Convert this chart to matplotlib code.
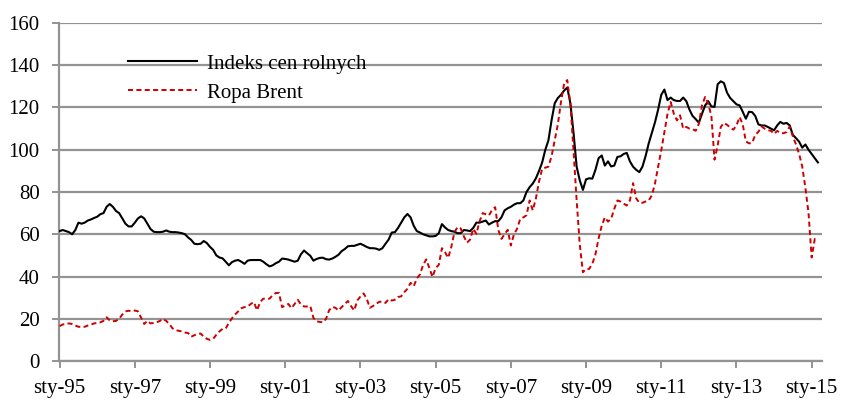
import matplotlib
matplotlib.use("Agg")
import matplotlib.pyplot as plt
import numpy as np

# Monthly data, Jan 1995 - Mar 2015
indeks = [
    61.5, 62, 61.5, 61, 60, 62, 65.5, 65, 65.5, 66.5, 67, 67.7,
    68.3, 69.5, 70, 73, 74.3, 73, 71, 70, 67.5, 65, 63.7, 63.7,
    65.5, 67.5, 68.5, 67.5, 65, 62.5, 61.2, 61, 61, 61.2, 61.8, 61.2,
    61, 61, 60.8, 60.5, 60, 58.5, 57.3, 55.5, 55.3, 55.5, 56.8, 55.8,
    54, 52.6, 50, 49, 48.6, 47, 45.3, 46.8, 47.5, 47.8, 47, 46,
    47.5, 47.8, 47.8, 47.8, 47.8, 47, 45.8, 44.8, 45.3, 46.3, 47, 48.5,
    48.3, 48, 47.5, 47, 47.5, 50.5, 52.3, 51, 49.8, 47.5, 48.3, 48.8,
    48.9, 48.2, 48, 48.5, 49.3, 50.3, 52, 53, 54.3, 54.5, 54.5, 55,
    55.5, 54.8, 54, 53.4, 53.4, 53.2, 52.6, 53.4, 55.5, 57.5, 60.8, 61,
    63, 65.5, 68, 69.6, 68, 64, 61.5, 60.8, 60, 59.5, 59, 59,
    59.2, 60.5, 64.8, 63.2, 62, 61.5, 61.2, 60.5, 60.5, 62, 61.8, 61.5,
    63, 65.5, 65.5, 66, 66.5, 64.6, 65.5, 66.2, 66.2, 68, 71.3, 72.3,
    73, 74, 74.7, 74.7, 76, 80, 82.3, 84, 86.5, 90, 94, 100,
    104.5, 114, 122, 124.5, 126, 128, 129.5, 122, 108, 92, 85.5, 81,
    86, 86.5, 86.3, 90.5, 96, 97.3, 92.5, 94.5, 92.1, 92.5, 96.6, 96.9,
    98, 98.5, 94.5, 92, 90.5, 89.4, 92, 97, 103, 108, 113, 119,
    126, 128.5, 123.5, 124.7, 123.5, 123.1, 123.1, 124.7, 123, 119, 116, 114.5,
    112.8, 117, 121, 123, 120.5, 120.3, 131, 132.4, 131.6, 127, 124.5, 123,
    121.5, 121, 118, 114.7, 118, 117.8, 116, 112, 111.5, 111.5, 110.8, 110,
    109.2, 111.5, 113.2, 112.3, 112.7, 111.5, 107, 105.5, 103.8, 101, 102.5, 100,
    98, 96, 94,
]
brent = [
    16.5, 17.3, 17.5, 17.8, 17.5, 16.8, 16.2, 16.2, 16.2, 16.8, 17.2, 17.8,
    18, 18.3, 19, 20.7, 19.2, 18.8, 19, 20, 22, 23.5, 23.8, 23.6,
    23.9, 23.5, 20.5, 17.5, 19, 17.8, 18, 18.3, 19, 19.9, 19, 17.5,
    15.5, 14.6, 14.3, 14, 13.5, 13.2, 11.5, 12.2, 12.8, 13, 11.5, 10.5,
    10, 10.5, 12.4, 14, 15.2, 15.4, 18, 20.2, 22, 23.5, 25, 25.5,
    25.8, 27, 27.9, 24, 27.9, 29.5, 29.5, 29.5, 31.2, 32.2, 32.2, 25.5,
    26.3, 27, 25, 27, 29, 26.8, 25.8, 25.8, 26, 20.4, 18.8, 18.5,
    18.3, 19.9, 24, 25.6, 25.2, 23.9, 25.5, 27, 28.4, 26, 23.9, 28.7,
    30.5, 32, 29.5, 25.2, 26, 27.1, 28, 28.2, 27.5, 29.3, 28.6, 29,
    30.3, 30.6, 32.6, 34.2, 37, 35.4, 39, 41, 45.5, 48.1, 44, 39.8,
    44, 45.5, 53.4, 51.5, 48.8, 54, 61, 63.4, 62.8, 59, 56, 57.5,
    62.6, 60.2, 66, 70, 69.5, 68.9, 71.5, 72.8, 62, 57.8, 60, 62.1,
    54.7, 60, 62.6, 67.3, 68, 69, 76, 71.3, 77, 85, 91, 91.5,
    92, 97, 104.5, 112, 122.6, 131.3, 133, 121.8, 99.7, 76, 55, 42,
    43.6, 43.6, 46, 50.5, 58, 64, 68, 66, 67.3, 72, 76, 75.5,
    74.5, 73.6, 76, 84.2, 77, 74.9, 74.9, 75.5, 76, 78.4, 84, 92,
    99.7, 108.4, 117, 122.6, 117.1, 113.9, 116.3, 110, 110.8, 110, 109.7, 109,
    112.3, 121, 125, 121.8, 116, 95.3, 102, 110.8, 112.7, 111.8, 110.5, 109.5,
    111.5, 115.5, 112, 104, 103, 103.3, 107, 108.5, 111, 110, 109.2, 109,
    107.5, 108.9, 108, 107.8, 108.4, 111, 106.3, 102.5, 98, 92, 82, 70,
    49, 57.8, 57,
]
tick_labels = ["sty-95", "sty-97", "sty-99", "sty-01", "sty-03", "sty-05",
               "sty-07", "sty-09", "sty-11", "sty-13", "sty-15"]
series_names = ["Indeks cen rolnych", "Ropa Brent"]

plt.rcParams['font.family'] = ['Liberation Serif', 'DejaVu Serif']

fig = plt.figure(figsize=(8.45, 4.01), dpi=100)
ax = fig.add_axes([59/845, 1-361/401, (822-59)/845, (361-23)/401])

x = np.arange(len(indeks))
ax.plot(x, indeks, color='black', lw=1.5, label=series_names[0], zorder=3)
ax.plot(np.arange(len(brent)), brent, color='#cc0000', lw=1.4,
        linestyle=(0, (2.6, 1.7)), label=series_names[1], zorder=3)

ax.set_xlim(-0.2, 243.3)
ax.set_ylim(0, 160)
ax.set_yticks(np.arange(0, 161, 20))
ax.set_xticks(np.arange(0, 241, 24))
ax.set_xticklabels(tick_labels)

grid_c = '#939393'
ax.yaxis.grid(True, color=grid_c, lw=1.6)
ax.set_axisbelow(True)
for s in ['top', 'right']:
    ax.spines[s].set_visible(False)
for s in ['left', 'bottom']:
    ax.spines[s].set_color(grid_c)
    ax.spines[s].set_linewidth(1.6)
ax.tick_params(axis='both', colors=grid_c, length=5, width=1.4,
               labelsize=15, labelcolor='black')
ax.tick_params(axis='x', pad=8)
ax.tick_params(axis='y', pad=9)

leg = ax.legend(loc='upper left', bbox_to_anchor=(128/845, 1-54/401),
                bbox_transform=fig.transFigure, frameon=False, fontsize=15,
                handlelength=3.3, handletextpad=0.5, labelspacing=0.45,
                borderpad=0, borderaxespad=0)

fig.savefig('out.png', dpi=100)
